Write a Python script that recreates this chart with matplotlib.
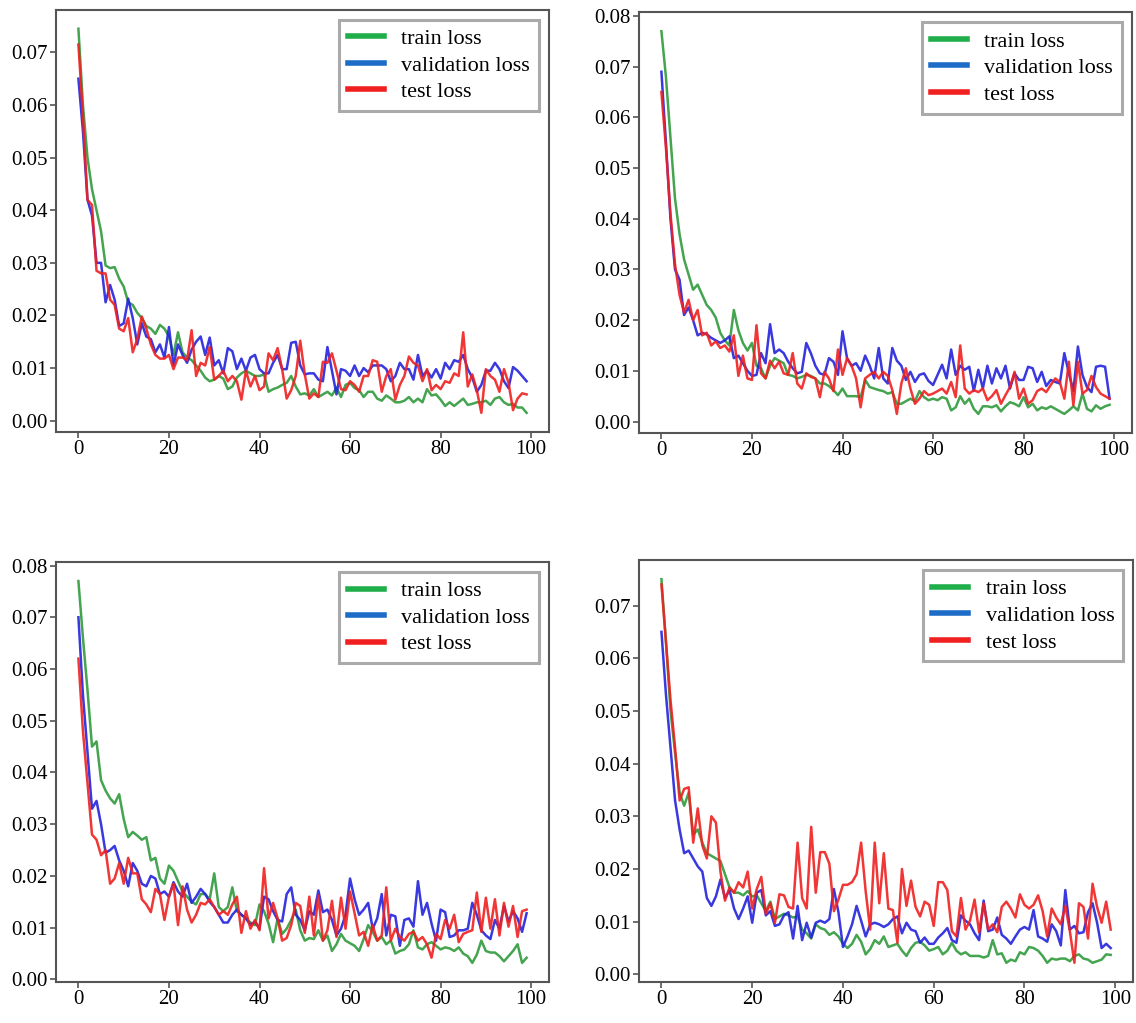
import numpy as np
import matplotlib
matplotlib.use('Agg')
import matplotlib.pyplot as plt
from matplotlib.lines import Line2D

plt.rcParams['font.family'] = ['Liberation Serif', 'DejaVu Serif']

epochs = np.arange(100)

# ---- panel 1 (top left)
train_1 = [0.0745, 0.060, 0.050, 0.044, 0.040, 0.036, 0.0295, 0.029, 0.0292, 0.027,
           0.0255, 0.0225, 0.022, 0.0205, 0.0195, 0.018, 0.0175, 0.0165, 0.0182, 0.0175,
           0.016, 0.0125, 0.0168, 0.013, 0.012, 0.0115, 0.0105, 0.0095, 0.0082, 0.0075,
           0.0078, 0.0085, 0.008, 0.006, 0.0065, 0.0082, 0.009, 0.0095, 0.009, 0.0085,
           0.0085, 0.0088, 0.0055, 0.006, 0.0063, 0.0068, 0.0072, 0.0085, 0.0065, 0.005,
           0.0052, 0.0048, 0.006, 0.0045, 0.005, 0.0055, 0.0048, 0.0063, 0.0045, 0.0068,
           0.0072, 0.0062, 0.0058, 0.0045, 0.0055, 0.0055, 0.0042, 0.0038, 0.0048, 0.0042,
           0.0035, 0.0035, 0.0038, 0.0045, 0.0035, 0.0042, 0.0035, 0.006, 0.0048, 0.005,
           0.004, 0.0028, 0.0035, 0.0028, 0.0035, 0.0042, 0.003, 0.0032, 0.0035, 0.0035,
           0.0038, 0.003, 0.0042, 0.0045, 0.0035, 0.003, 0.0032, 0.0025, 0.0025, 0.0015]
val_1 = [0.065, 0.055, 0.042, 0.039, 0.030, 0.030, 0.0225, 0.0258, 0.023, 0.018,
         0.0185, 0.0232, 0.0195, 0.0145, 0.0185, 0.016, 0.0155, 0.013, 0.0145, 0.012,
         0.0178, 0.0105, 0.0145, 0.0125, 0.011, 0.0135, 0.015, 0.016, 0.0125, 0.0158,
         0.0105, 0.0115, 0.009, 0.0138, 0.0132, 0.0098, 0.0118, 0.0095, 0.012, 0.0125,
         0.0098, 0.009, 0.009, 0.011, 0.0125, 0.0098, 0.0098, 0.0148, 0.015, 0.0105,
         0.0088, 0.009, 0.009, 0.0078, 0.0075, 0.014, 0.0095, 0.005, 0.0098, 0.0095,
         0.0085, 0.0105, 0.0085, 0.010, 0.0092, 0.0105, 0.0105, 0.0105, 0.0098, 0.0075,
         0.0085, 0.011, 0.0098, 0.0098, 0.0078, 0.0125, 0.0085, 0.0095, 0.0082, 0.0098,
         0.008, 0.011, 0.0098, 0.0115, 0.0112, 0.0125, 0.0098, 0.0082, 0.0055, 0.0068,
         0.0095, 0.0095, 0.011, 0.0098, 0.0075, 0.0062, 0.0102, 0.0095, 0.0085, 0.0075]
test_1 = [0.0715, 0.058, 0.042, 0.041, 0.0285, 0.028, 0.028, 0.023, 0.022, 0.0175,
          0.017, 0.0195, 0.013, 0.0155, 0.0198, 0.0175, 0.0145, 0.0125, 0.0118, 0.0118,
          0.0125, 0.0098, 0.012, 0.012, 0.0115, 0.0172, 0.0085, 0.011, 0.0105, 0.014,
          0.0078, 0.0085, 0.0095, 0.0075, 0.0085, 0.0075, 0.004, 0.0095, 0.0065, 0.0085,
          0.0058, 0.0065, 0.0128, 0.0115, 0.0138, 0.0098, 0.0042, 0.0058, 0.0085, 0.0152,
          0.0088, 0.0042, 0.0052, 0.0045, 0.0112, 0.011, 0.0128, 0.0095, 0.006, 0.0058,
          0.0075, 0.0068, 0.0055, 0.0085, 0.0085, 0.0115, 0.0112, 0.0055, 0.0085, 0.0098,
          0.004, 0.0068, 0.0085, 0.0122, 0.011, 0.0105, 0.0075, 0.0098, 0.0058, 0.0068,
          0.006, 0.0075, 0.0072, 0.009, 0.0085, 0.0168, 0.0065, 0.0088, 0.0058, 0.0015,
          0.0098, 0.0085, 0.0078, 0.0055, 0.0098, 0.0072, 0.002, 0.0042, 0.0052, 0.005]

# ---- panel 2 (top right)
train_2 = [0.077, 0.068, 0.056, 0.044, 0.037, 0.032, 0.029, 0.026, 0.027, 0.025,
           0.023, 0.022, 0.0205, 0.0175, 0.016, 0.015, 0.022, 0.018, 0.0155, 0.014,
           0.0155, 0.011, 0.0105, 0.0085, 0.011, 0.0125, 0.012, 0.0115, 0.0092, 0.009,
           0.0085, 0.0088, 0.0092, 0.009, 0.0085, 0.0075, 0.0075, 0.007, 0.0062, 0.0052,
           0.0065, 0.005, 0.005, 0.005, 0.0048, 0.0082, 0.0068, 0.0065, 0.0062, 0.006,
           0.0055, 0.0058, 0.0035, 0.0035, 0.004, 0.0045, 0.004, 0.006, 0.0048, 0.0042,
           0.0045, 0.0042, 0.0048, 0.0045, 0.0022, 0.0028, 0.005, 0.0035, 0.0045, 0.0025,
           0.0015, 0.003, 0.003, 0.0028, 0.0032, 0.002, 0.003, 0.0038, 0.0035, 0.003,
           0.0048, 0.0028, 0.0035, 0.0022, 0.0028, 0.0025, 0.003, 0.0025, 0.002, 0.0015,
           0.0022, 0.003, 0.0022, 0.0055, 0.0025, 0.002, 0.0032, 0.0025, 0.003, 0.0033]
val_2 = [0.069, 0.055, 0.040, 0.030, 0.028, 0.021, 0.0225, 0.020, 0.017, 0.0175,
         0.0172, 0.0165, 0.016, 0.0155, 0.016, 0.0168, 0.0125, 0.013, 0.0115, 0.010,
         0.009, 0.0092, 0.0135, 0.0115, 0.0192, 0.0135, 0.0142, 0.0135, 0.0118, 0.0105,
         0.0095, 0.0098, 0.0155, 0.0135, 0.011, 0.0095, 0.0092, 0.0125, 0.0118, 0.0092,
         0.0178, 0.0125, 0.011, 0.0115, 0.010, 0.013, 0.011, 0.0085, 0.0145, 0.0085,
         0.0075, 0.0145, 0.012, 0.011, 0.0082, 0.0098, 0.0078, 0.0092, 0.0095, 0.008,
         0.0072, 0.0092, 0.0112, 0.0085, 0.0142, 0.0092, 0.011, 0.0102, 0.0108, 0.006,
         0.0102, 0.0065, 0.011, 0.0075, 0.0105, 0.0085, 0.011, 0.0065, 0.0095, 0.0082,
         0.0082, 0.0108, 0.0105, 0.0078, 0.0098, 0.007, 0.0082, 0.0078, 0.0075, 0.0135,
         0.0095, 0.006, 0.0148, 0.0092, 0.0068, 0.0058, 0.0108, 0.011, 0.0108, 0.0045]
test_2 = [0.065, 0.054, 0.041, 0.031, 0.025, 0.0215, 0.024, 0.020, 0.022, 0.017,
          0.0175, 0.015, 0.0158, 0.0145, 0.015, 0.0138, 0.017, 0.009, 0.013, 0.0085,
          0.0082, 0.019, 0.0095, 0.0085, 0.012, 0.0105, 0.0118, 0.0095, 0.0092, 0.0135,
          0.0075, 0.0065, 0.0095, 0.0088, 0.0085, 0.0048, 0.0098, 0.0085, 0.006, 0.0142,
          0.0092, 0.0125, 0.011, 0.0085, 0.0028, 0.0085, 0.0092, 0.0098, 0.0085, 0.0098,
          0.009, 0.0062, 0.0015, 0.0075, 0.0105, 0.0065, 0.0035, 0.0045, 0.006, 0.0052,
          0.0055, 0.006, 0.0065, 0.0055, 0.0078, 0.0048, 0.015, 0.0065, 0.0055, 0.0062,
          0.0058, 0.0065, 0.0042, 0.005, 0.0062, 0.0035, 0.0052, 0.0068, 0.0098, 0.0045,
          0.0065, 0.0035, 0.0042, 0.006, 0.0065, 0.0058, 0.0072, 0.0085, 0.0078, 0.0045,
          0.0118, 0.0032, 0.0118, 0.0055, 0.0062, 0.009, 0.0068, 0.0055, 0.005, 0.0045]

# ---- panel 3 (bottom left)
train_3 = [0.077, 0.066, 0.056, 0.045, 0.046, 0.0385, 0.0365, 0.035, 0.034, 0.0358,
           0.031, 0.0275, 0.0285, 0.0278, 0.027, 0.0275, 0.023, 0.0235, 0.0195, 0.0185,
           0.022, 0.021, 0.019, 0.017, 0.016, 0.015, 0.0145, 0.0165, 0.0165, 0.0155,
           0.0205, 0.014, 0.0132, 0.014, 0.0178, 0.0132, 0.0125, 0.0118, 0.011, 0.0105,
           0.0145, 0.0132, 0.0108, 0.0072, 0.0118, 0.0088, 0.0098, 0.0115, 0.0135, 0.0095,
           0.0075, 0.008, 0.0078, 0.0095, 0.0075, 0.0085, 0.0055, 0.0068, 0.0088, 0.0075,
           0.007, 0.0065, 0.0055, 0.0078, 0.0105, 0.0092, 0.0075, 0.0082, 0.0068, 0.0075,
           0.005, 0.0055, 0.0058, 0.0068, 0.0095, 0.0062, 0.0058, 0.0068, 0.0072, 0.0065,
           0.0058, 0.0062, 0.006, 0.0055, 0.0062, 0.005, 0.0045, 0.0032, 0.0048, 0.0075,
           0.0055, 0.0052, 0.0052, 0.0045, 0.0035, 0.0045, 0.0055, 0.0068, 0.0032, 0.0042]
val_3 = [0.070, 0.055, 0.044, 0.033, 0.0345, 0.030, 0.0245, 0.025, 0.0258, 0.023,
         0.021, 0.018, 0.0225, 0.021, 0.0185, 0.018, 0.020, 0.0195, 0.0165, 0.017,
         0.016, 0.0188, 0.017, 0.016, 0.0185, 0.0148, 0.016, 0.0175, 0.0165, 0.015,
         0.014, 0.0125, 0.011, 0.011, 0.0125, 0.0135, 0.0125, 0.0118, 0.0105, 0.0112,
         0.0098, 0.016, 0.0155, 0.0132, 0.0115, 0.0112, 0.0165, 0.0178, 0.0125, 0.0115,
         0.0095, 0.0132, 0.0125, 0.0172, 0.013, 0.0135, 0.0115, 0.0085, 0.0098, 0.0125,
         0.0195, 0.0155, 0.0125, 0.0135, 0.0148, 0.0098, 0.0118, 0.0165, 0.0085, 0.0125,
         0.0122, 0.0065, 0.0115, 0.0118, 0.0102, 0.019, 0.0125, 0.0148, 0.0108, 0.0075,
         0.0135, 0.013, 0.0082, 0.0085, 0.0095, 0.0095, 0.0098, 0.0148, 0.0125, 0.0095,
         0.0085, 0.0078, 0.0115, 0.0098, 0.0142, 0.0112, 0.0132, 0.0118, 0.0092, 0.0128]
test_3 = [0.062, 0.048, 0.038, 0.028, 0.027, 0.024, 0.025, 0.0185, 0.0195, 0.0225,
          0.0185, 0.0235, 0.0205, 0.0205, 0.0155, 0.0145, 0.013, 0.0175, 0.0165, 0.0115,
          0.016, 0.0185, 0.0105, 0.018, 0.0135, 0.011, 0.0125, 0.0148, 0.0145, 0.0155,
          0.014, 0.0125, 0.0132, 0.0125, 0.0145, 0.016, 0.009, 0.0132, 0.0098, 0.0115,
          0.0095, 0.0215, 0.0118, 0.0148, 0.0118, 0.0075, 0.008, 0.0105, 0.0148, 0.0142,
          0.009, 0.016, 0.0085, 0.0162, 0.0075, 0.0095, 0.0152, 0.0082, 0.0158, 0.0098,
          0.017, 0.0128, 0.0085, 0.0092, 0.0065, 0.0105, 0.0075, 0.0085, 0.0178, 0.0075,
          0.0098, 0.0082, 0.0075, 0.0088, 0.0092, 0.0075, 0.0082, 0.0068, 0.0042, 0.0088,
          0.0078, 0.0115, 0.0098, 0.0125, 0.0072, 0.0088, 0.0092, 0.0095, 0.0168, 0.0092,
          0.0158, 0.0098, 0.0155, 0.0085, 0.0148, 0.0102, 0.0142, 0.0082, 0.0132, 0.0135]

# ---- panel 4 (bottom right)
train_4 = [0.075, 0.063, 0.050, 0.042, 0.0345, 0.032, 0.0345, 0.0265, 0.0275, 0.025,
           0.023, 0.0225, 0.022, 0.0215, 0.019, 0.0165, 0.0155, 0.0155, 0.015, 0.0158,
           0.0148, 0.015, 0.0135, 0.012, 0.0138, 0.0105, 0.011, 0.0115, 0.0112, 0.0108,
           0.011, 0.0085, 0.0078, 0.0068, 0.0095, 0.0088, 0.0085, 0.0075, 0.008, 0.0072,
           0.0058, 0.005, 0.0058, 0.0075, 0.0062, 0.0038, 0.0048, 0.0065, 0.0058, 0.0072,
           0.0052, 0.0055, 0.0058, 0.0045, 0.0035, 0.005, 0.006, 0.0062, 0.0055, 0.0045,
           0.0048, 0.0052, 0.0038, 0.0045, 0.006, 0.0045, 0.0038, 0.0042, 0.0035, 0.0035,
           0.0035, 0.0032, 0.0035, 0.0065, 0.0038, 0.004, 0.0022, 0.0028, 0.0025, 0.0042,
           0.0038, 0.0052, 0.005, 0.0045, 0.0035, 0.0022, 0.003, 0.0028, 0.003, 0.003,
           0.0025, 0.0035, 0.0038, 0.003, 0.0028, 0.0022, 0.0025, 0.0028, 0.0038, 0.0037]
val_4 = [0.065, 0.053, 0.043, 0.033, 0.0275, 0.023, 0.0235, 0.022, 0.0205, 0.0195,
         0.0145, 0.013, 0.0148, 0.018, 0.0145, 0.016, 0.0125, 0.0105, 0.0125, 0.0148,
         0.0098, 0.0155, 0.016, 0.0112, 0.012, 0.0092, 0.0095, 0.0112, 0.0118, 0.0068,
         0.013, 0.0065, 0.0098, 0.007, 0.0098, 0.0102, 0.0098, 0.0105, 0.0162, 0.0118,
         0.0052, 0.0072, 0.0095, 0.013, 0.0102, 0.0072, 0.0095, 0.0098, 0.0095, 0.009,
         0.0095, 0.0105, 0.011, 0.0078, 0.0098, 0.0085, 0.0082, 0.006, 0.007, 0.0058,
         0.0058, 0.007, 0.0078, 0.0088, 0.0065, 0.006, 0.0112, 0.0102, 0.0095, 0.0078,
         0.0065, 0.014, 0.0082, 0.0085, 0.0108, 0.0075, 0.0068, 0.0058, 0.0072, 0.0085,
         0.009, 0.0085, 0.0122, 0.0072, 0.0068, 0.0062, 0.0095, 0.0082, 0.0055, 0.016,
         0.0085, 0.0092, 0.0078, 0.008, 0.0118, 0.0135, 0.0098, 0.005, 0.0058, 0.005]
test_4 = [0.074, 0.063, 0.052, 0.043, 0.033, 0.0352, 0.0355, 0.025, 0.0315, 0.0245,
          0.022, 0.030, 0.0288, 0.0195, 0.014, 0.0165, 0.0155, 0.0175, 0.0165, 0.0195,
          0.0125, 0.0162, 0.0185, 0.0115, 0.0135, 0.0098, 0.0152, 0.015, 0.0128, 0.0125,
          0.025, 0.0145, 0.0125, 0.028, 0.0155, 0.0232, 0.0232, 0.021, 0.012, 0.0142,
          0.017, 0.017, 0.0175, 0.019, 0.025, 0.0158, 0.0085, 0.025, 0.0135, 0.023,
          0.0125, 0.0122, 0.006, 0.020, 0.013, 0.0178, 0.0128, 0.011, 0.0138, 0.0132,
          0.0092, 0.0175, 0.0175, 0.016, 0.0082, 0.0072, 0.0145, 0.0085, 0.0102, 0.0142,
          0.008, 0.0135, 0.0085, 0.0095, 0.008, 0.0128, 0.0138, 0.0125, 0.0108, 0.0152,
          0.0132, 0.0125, 0.0132, 0.015, 0.012, 0.0072, 0.0125, 0.0108, 0.0095, 0.013,
          0.0082, 0.0022, 0.0135, 0.0128, 0.0068, 0.0172, 0.0128, 0.0098, 0.0138, 0.0085]

labels = ['train loss', 'validation loss', 'test loss']
line_colors = ['#2f9a3c', '#2323dc', '#f02020']
legend_colors = ['#1fae4a', '#1d6cc8', '#f02020']

panels = [
    ([0.0493, 0.5777, 0.434, 0.413], train_1, val_1, test_1),
    ([0.5625, 0.5767, 0.434, 0.4115], train_2, val_2, test_2),
    ([0.0493, 0.0401, 0.434, 0.4106], train_3, val_3, test_3),
    ([0.5625, 0.0401, 0.435, 0.4125], train_4, val_4, test_4),
]

fig = plt.figure(figsize=(11.36, 10.23), dpi=100)

for rect, tr, va, te in panels:
    ax = fig.add_axes(rect)
    for series, c in zip([tr, va, te], line_colors):
        ax.plot(epochs, series, color=c, linewidth=1.8, alpha=0.9)
    for s in ax.spines.values():
        s.set_color('#555555')
        s.set_linewidth(1.5)
    ax.tick_params(direction='out', length=4, width=1.2, color='#555555',
                   labelsize=15, pad=2)
    ax.set_xticks([0, 20, 40, 60, 80, 100])
    handles = [Line2D([0], [0], color=c, linewidth=4) for c in legend_colors]
    leg = ax.legend(handles, labels, loc='upper right', fontsize=16,
                    handlelength=1.6, handletextpad=0.8, labelspacing=0.27,
                    borderpad=0.4, fancybox=False, framealpha=1,
                    borderaxespad=0.45)
    leg.get_frame().set_edgecolor('#aaaaaa')
    leg.get_frame().set_linewidth(2.2)

fig.savefig('out.png', dpi=100)
